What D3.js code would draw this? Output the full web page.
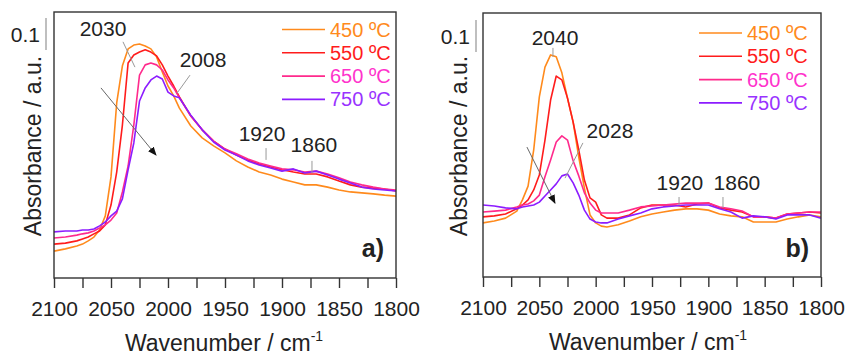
<!DOCTYPE html>
<html>
<head>
<meta charset="utf-8">
<script src="https://cdn.jsdelivr.net/npm/d3@7"></script>
<style>
  body { margin: 0; background: #fff; }
  text { font-family: "Liberation Sans", Arial, sans-serif; fill: #222; }
</style>
</head>
<body>
<svg id="chart" width="845" height="355"></svg>
<script>
// wavenumber grids (cm-1)
const wnA = [2100, 2090, 2080, 2075, 2070, 2065, 2060, 2055, 2050, 2045, 2040, 2035, 2030, 2025, 2020, 2015, 2010, 2005, 2000, 1995,
  1990, 1980, 1970, 1960, 1950, 1940, 1930, 1920, 1910, 1900, 1890, 1880, 1870, 1860, 1850, 1840, 1830, 1820, 1810, 1800];
const wnB = [2100, 2090, 2080, 2070, 2065, 2060, 2055, 2050, 2045, 2040, 2035, 2030, 2025, 2020, 2015, 2010, 2005, 2000, 1995,
  1990, 1980, 1970, 1960, 1950, 1940, 1930, 1920, 1910, 1900, 1890, 1880, 1870, 1860, 1850, 1840, 1830, 1820, 1810, 1800];

// panel a) absorbance
const a450 = [.084, .091, .100, .106, .116, .128, .150, .194, .316, .547, .663, .716, .728, .731, .725, .716, .691, .644, .600, .569,
  .531, .475, .438, .413, .391, .366, .347, .331, .322, .309, .300, .291, .291, .284, .275, .269, .266, .263, .259, .256];
const a550 = [.106, .109, .116, .122, .128, .138, .147, .166, .228, .331, .478, .672, .697, .706, .713, .706, .694, .666, .631, .600,
  .566, .506, .463, .428, .403, .384, .369, .356, .347, .338, .331, .325, .325, .316, .303, .291, .284, .281, .278, .272];
const a650 = [.125, .128, .134, .138, .141, .147, .156, .166, .181, .203, .269, .350, .478, .634, .666, .672, .666, .650, .619, .594,
  .563, .506, .463, .428, .403, .388, .372, .359, .350, .341, .338, .331, .334, .325, .313, .300, .291, .284, .278, .275];
const a750 = [.144, .147, .147, .150, .150, .153, .163, .175, .194, .209, .247, .338, .422, .553, .594, .619, .631, .622, .581, .569,
  .563, .509, .463, .425, .400, .384, .366, .353, .344, .334, .341, .328, .334, .322, .309, .297, .284, .278, .275, .272];

// panel b) absorbance
const b450 = [.169, .175, .184, .206, .241, .284, .397, .563, .656, .694, .688, .638, .559, .484, .375, .278, .194, .169, .159,
  .156, .163, .175, .188, .197, .203, .209, .213, .213, .209, .197, .191, .188, .172, .172, .172, .181, .188, .194, .188];
const b550 = [.188, .191, .197, .213, .225, .241, .272, .319, .428, .553, .628, .616, .559, .484, .397, .303, .247, .234, .194,
  .184, .184, .194, .216, .225, .225, .225, .219, .228, .231, .216, .209, .203, .188, .188, .184, .197, .200, .203, .200];
const b650 = [.203, .206, .209, .219, .225, .228, .238, .256, .313, .366, .422, .441, .428, .363, .316, .263, .231, .209, .200,
  .200, .200, .209, .219, .222, .225, .228, .231, .231, .231, .219, .213, .206, .188, .188, .184, .197, .200, .203, .203];
const b750 = [.225, .222, .216, .213, .219, .222, .225, .234, .253, .272, .291, .316, .322, .294, .256, .209, .181, .172, .169,
  .169, .181, .191, .200, .213, .219, .222, .225, .225, .225, .213, .203, .184, .191, .188, .181, .194, .194, .194, .184];

const labels = ["450 ºC", "550 ºC", "650 ºC", "750 ºC"];
const xTicks = d3.range(1800, 2101, 25);

// peak labels: [text, wn, absorbance], leader lines, arrow
const notesA = [["2030", 2057, .756], ["2008", 1969.3, .659], ["1920", 1917.5, .428], ["1860", 1872, .394]];
const leadsA = [[[2039.5, .738], [2029, .659]], [[1980.7, .634], [1992, .578]], [[1914, .406], [1914, .369]], [[1873.7, .366], [1873.7, .328]]];
const arrowA = [[2058.8, .594], [2010.5, .384]];
const notesB = [["2040", 2036.1, .725], ["2028", 1987.3, .434], ["1920", 1925.2, .272], ["1860", 1874.6, .272]];
const leadsB = [[[2037.9, .716], [2037.9, .688]], [[2011.3, .419], [2027.2, .309]], [[1926, .25], [1926, .225]], [[1887, .25], [1887, .216]]];
const arrowB = [[2061, .406], [2036.1, .231]];

const lineColors = ["#ff8a1c", "#ff1c1c", "#ff2a8c", "#8c1cff"];
const textColors = ["#ff8a1c", "#ff1c1c", "#ff33cc", "#9933ff"];

const svg = d3.select("#chart");

svg.append("defs").append("marker")
  .attr("id", "head")
  .attr("viewBox", "0 0 10 10")
  .attr("refX", 9).attr("refY", 5)
  .attr("markerWidth", 9).attr("markerHeight", 9)
  .attr("markerUnits", "userSpaceOnUse")
  .attr("orient", "auto")
  .append("path").attr("d", "M0,1L10,5L0,9Z").attr("fill", "#111");

function drawPanel(p) {
  var x = d3.scaleLinear().domain([2100, 1800]).range([p.left, p.right]);
  var y = d3.scaleLinear().domain([0, (p.bottom - p.top) / 320]).range([p.bottom, p.top]);
  var g = svg.append("g");

  g.append("clipPath").attr("id", "clip" + p.id)
    .append("rect").attr("x", p.left).attr("y", p.top)
    .attr("width", p.right - p.left).attr("height", p.bottom - p.top);

  var lineGen = d3.line().x(d => x(d[0])).y(d => y(d[1]));

  g.append("g").attr("clip-path", "url(#clip" + p.id + ")")
    .selectAll("path")
    .data(p.series)
    .join("path")
      .attr("d", s => lineGen(p.wn.map((w, i) => [w, s[i]])))
      .attr("fill", "none")
      .attr("stroke", (s, i) => lineColors[i])
      .attr("stroke-width", 1.6)
      .attr("stroke-linejoin", "round");

  // frame
  g.append("rect").attr("x", p.left).attr("y", p.top)
    .attr("width", p.right - p.left).attr("height", p.bottom - p.top)
    .attr("fill", "none").attr("stroke", "#333").attr("stroke-width", 1.4);

  var gx = g.append("g").attr("transform", "translate(0," + p.bottom + ")")
    .call(d3.axisBottom(x).tickValues(xTicks).tickSize(10).tickPadding(13)
      .tickFormat(d => d % 50 ? "" : d));
  gx.select(".domain").remove();
  gx.selectAll(".tick line").attr("stroke", "#333").attr("stroke-width", 1.4);
  gx.selectAll(".tick text").attr("font-size", 21).attr("fill", "#222")
    .attr("font-family", "Liberation Sans, Arial, sans-serif");

  // axis titles
  var xl = g.append("text").attr("x", p.xlabX).attr("y", p.bottom + 73)
    .attr("text-anchor", "middle").attr("font-size", 23);
  xl.append("tspan").text("Wavenumber / cm");
  xl.append("tspan").attr("font-size", 14).attr("dy", -10).text("-1");

  g.append("text")
    .attr("transform", "translate(" + p.ylabX + "," + ((p.top + p.bottom) / 2 + 1) + ") rotate(-90)")
    .attr("text-anchor", "middle").attr("font-size", 23)
    .text("Absorbance / a.u.");

  // 0.1 scale bar
  g.append("line").attr("x1", p.barX).attr("x2", p.barX)
    .attr("y1", y(p.barV)).attr("y2", y(p.barV + 0.1))
    .attr("stroke", "#aaa").attr("stroke-width", 1.5);
  g.append("text").attr("x", p.barX - 6).attr("y", y(p.barV + 0.05) + 7.5)
    .attr("text-anchor", "end").attr("font-size", 21).text("0.1");

  // leaders, arrow, peak labels
  g.selectAll(".lead").data(p.leads).join("line")
    .attr("x1", d => x(d[0][0])).attr("y1", d => y(d[0][1]))
    .attr("x2", d => x(d[1][0])).attr("y2", d => y(d[1][1]))
    .attr("stroke", "#999").attr("stroke-width", 1);
  g.append("line")
    .attr("x1", x(p.arrow[0][0])).attr("y1", y(p.arrow[0][1]))
    .attr("x2", x(p.arrow[1][0])).attr("y2", y(p.arrow[1][1]))
    .attr("stroke", "#666").attr("stroke-width", 1)
    .attr("marker-end", "url(#head)");
  g.selectAll(".note").data(p.notes).join("text")
    .attr("x", d => x(d[1])).attr("y", d => y(d[2]))
    .attr("text-anchor", "middle").attr("font-size", 21)
    .text(d => d[0]);

  // legend
  var lg = g.selectAll(".leg").data(labels).join("g")
    .attr("transform", (d, i) => "translate(" + p.legX + "," + (p.legY + i * 23.3) + ")");
  lg.append("line").attr("x1", 0).attr("x2", 43)
    .attr("stroke", (d, i) => lineColors[i]).attr("stroke-width", 1.6);
  lg.append("text").attr("x", 48).attr("y", 7).attr("font-size", 20)
    .attr("fill", (d, i) => textColors[i]).style("fill", (d, i) => textColors[i])
    .text(d => d);

  g.append("text").attr("x", p.right - 12).attr("y", 257)
    .attr("text-anchor", "end").attr("font-size", 25).attr("font-weight", "bold")
    .text(p.tag);
}

drawPanel({ id: "a", left: 54, right: 396, top: 12, bottom: 278, wn: wnA, series: [a450, a550, a650, a750],
  xlabX: 224, ylabX: 41, barX: 46, barV: .7125, notes: notesA, leads: leadsA, arrow: arrowA,
  legX: 282, legY: 29.5, tag: "a)" });
drawPanel({ id: "b", left: 483, right: 821, top: 13, bottom: 277, wn: wnB, series: [b450, b550, b650, b750],
  xlabX: 648, ylabX: 467, barX: 476, barV: .703, notes: notesB, leads: leadsB, arrow: arrowB,
  legX: 699, legY: 33, tag: "b)" });
</script>
</body>
</html>
